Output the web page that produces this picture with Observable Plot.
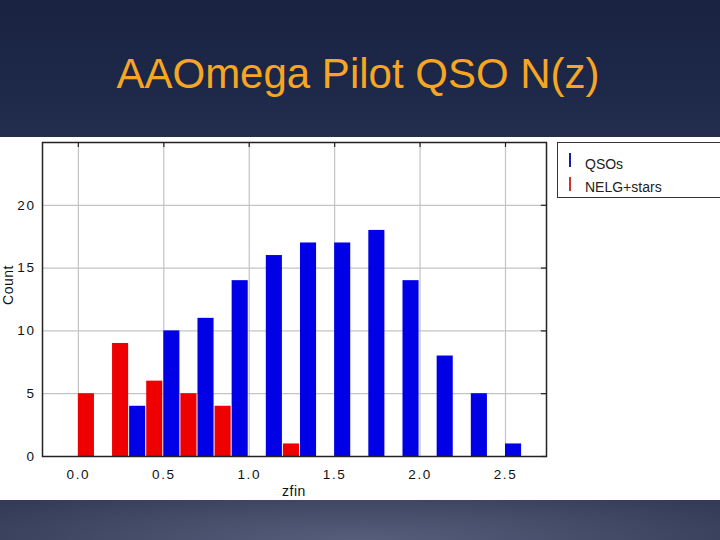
<!DOCTYPE html>
<html>
<head>
<meta charset="utf-8">
<script src="https://cdn.jsdelivr.net/npm/d3@7"></script>
<script src="https://cdn.jsdelivr.net/npm/@observablehq/plot@0.6"></script>
<style>
  html, body { margin: 0; padding: 0; }
  #page {
    position: relative; width: 720px; height: 540px; overflow: hidden;
    background: #ffffff;
    font-family: "Liberation Sans", Arial, sans-serif;
  }
  #top {
    position: absolute; left: 0; top: 0; width: 720px; height: 137px;
    background: linear-gradient(180deg, #1a2341 0%, #1d2747 60%, #232d4d 100%);
  }
  #title {
    position: absolute; left: 0; width: 716px; top: 48px; text-align: center;
    color: #f6a623; font-size: 42px; line-height: 52px;
    font-family: "Liberation Sans", Arial, sans-serif;
  }
  #bottom {
    position: absolute; left: 0; top: 500px; width: 720px; height: 40px;
    background: radial-gradient(ellipse 60% 140% at 50% 100%, #565e7b 0%, #444c68 55%, #353c57 100%);
  }
  #chart { position: absolute; left: 0; top: 137px; }
  #legend {
    position: absolute; left: 557px; top: 142px; width: 163px; height: 56px;
    box-sizing: border-box; border: 1.5px solid #333; border-right: none; background: #fff;
    font-size: 14px; color: #222;
  }
  .item { position: absolute; left: 27px; }
  .mk { position: absolute; left: 11px; width: 2px; height: 14px; }
  .axlabel { position: absolute; font-size: 14px; color: #111; letter-spacing: 0.5px; }
</style>
</head>
<body>
<div id="page">
  <div id="top"></div>
  <div id="title">AAOmega Pilot QSO N(z)</div>
  <div id="chart"></div>
  <div class="axlabel" id="xlabel" style="left:0;width:588px;text-align:center;top:483px;">zfin</div>
  <div class="axlabel" id="ylabel" style="left:-42px;top:277px;width:100px;text-align:center;transform:rotate(-90deg);">Count</div>
  <div id="legend">
    <div class="mk" style="top:10px;background:#1a1aa8"></div>
    <div class="item" style="top:13px">QSOs</div>
    <div class="mk" style="top:34px;background:#c83232"></div>
    <div class="item" style="top:36px">NELG+stars</div>
  </div>
  <div id="bottom"></div>
</div>
<script>
// Histogram bins (start of each 0.2-wide zfin bin)
const binStarts = [0.0, 0.2, 0.4, 0.6, 0.8, 1.0, 1.2, 1.4, 1.6, 1.8, 2.0, 2.2, 2.4];
const qsoCounts  = [0, 4, 10, 11, 14, 16, 17, 17, 18, 14, 8, 5, 1];
const nelgCounts = [5, 9, 6, 5, 4, 0, 1, 0, 0, 0, 0, 0, 0];
const xTicks = [0.0, 0.5, 1.0, 1.5, 2.0, 2.5];
const yTicks = [0, 5, 10, 15, 20];
const xDomain = [-0.21, 2.74];
const yDomain = [0, 25];

const qso = binStarts.map((b, i) => ({bin: b, count: qsoCounts[i]})).filter(d => d.count > 0);
const nelg = binStarts.map((b, i) => ({bin: b, count: nelgCounts[i]})).filter(d => d.count > 0);
const binW = 0.2;

const chart = Plot.plot({
  width: 720,
  height: 363,
  marginLeft: 42,
  marginRight: 174,
  marginTop: 5,
  marginBottom: 44,
  style: {fontFamily: "Liberation Sans, Arial, sans-serif", fontSize: "13.5px", color: "#111", background: "transparent", letterSpacing: "1.6px"},
  x: {domain: xDomain},
  y: {domain: yDomain},
  marks: [
    Plot.gridX(xTicks, {stroke: "#c4c4c4", strokeOpacity: 1, strokeWidth: 1.2}),
    Plot.gridY(yTicks, {stroke: "#c4c4c4", strokeOpacity: 1, strokeWidth: 1.2}),
    Plot.rectY(nelg, {x1: d => d.bin, x2: d => d.bin + binW / 2, y: "count", fill: "#ee0000", insetRight: 1}),
    Plot.rectY(qso, {x1: d => d.bin + binW / 2, x2: d => d.bin + binW, y: "count", fill: "#0000e6", insetRight: 1}),
    Plot.ruleX(xTicks, {x: d => d, y1: yDomain[1], y2: yDomain[1] - 0.4, stroke: "#222", strokeWidth: 1.2}),
    Plot.ruleY(yTicks, {y: d => d, x1: xDomain[1], x2: xDomain[1] - 0.03, stroke: "#222", strokeWidth: 1.2}),
    Plot.axisX(xTicks, {tickSize: 0, tickPadding: 13, tickFormat: d3.format(".1f"), label: null, fill: "#111"}),
    Plot.axisY(yTicks, {tickSize: 0, tickPadding: 7, label: null, fill: "#111"}),
    Plot.frame({stroke: "#222", strokeWidth: 1.5})
  ]
});
document.getElementById("chart").appendChild(chart);
</script>
</body>
</html>
